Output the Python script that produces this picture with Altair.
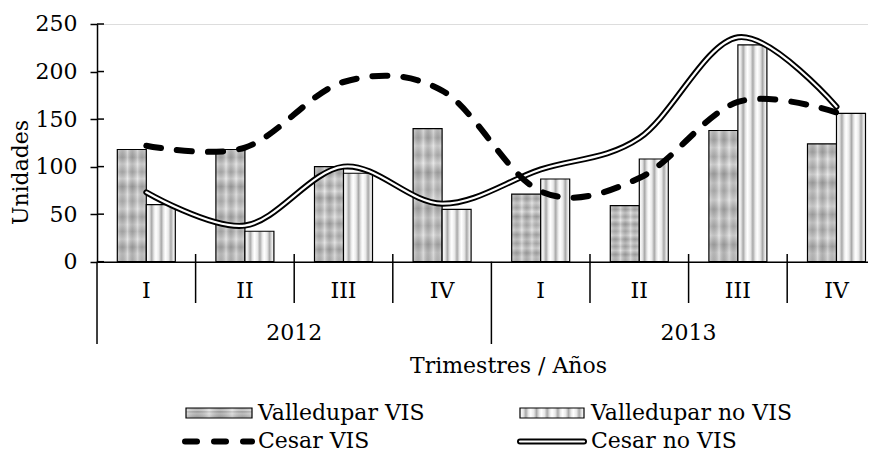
import altair as alt
import pandas as pd

# ---------------- data ----------------
years = ["2012", "2012", "2012", "2012", "2013", "2013", "2013", "2013"]
quarters = ["I", "II", "III", "IV", "I", "II", "III", "IV"]
valledupar_vis = [118, 118, 100, 140, 71, 59, 138, 124]
valledupar_no_vis = [60, 32, 93, 55, 87, 108, 228, 156]
cesar_vis = [122, 120, 189, 180, 74, 88, 168, 157]
cesar_no_vis = [73, 38, 100, 61, 97, 130, 236, 163]
y_ticks = [0, 50, 100, 150, 200, 250]
series_names = ["Valledupar VIS", "Valledupar no VIS", "Cesar VIS", "Cesar no VIS"]
year_labels = ["2012", "2013"]

cats = [f"{y}-{q}" for y, q in zip(years, quarters)]

# ---------------- layout / style ----------------
FONT = "DejaVu Serif"
FS = 22
STEP = 98.6      # category band width
W = STEP * 8     # full plot width (right part is cut by the page edge)
H = 237.7        # plot height (0 at y=261.7, 250 at y=24)
TOTAL_W = 860    # visible page width
BLACK = "#000000"

bars_df = pd.DataFrame({
    "cat": cats * 2,
    "series": [series_names[0]] * 8 + [series_names[1]] * 8,
    "value": valledupar_vis + valledupar_no_vis,
})
lines_df = pd.DataFrame({
    "cat": cats * 2,
    "series": [series_names[2]] * 8 + [series_names[3]] * 8,
    "value": cesar_vis + cesar_no_vis,
})
qlab_df = pd.DataFrame({"cat": cats, "q": quarters})
qsep_df = pd.DataFrame({"cat": [cats[i] for i in range(8) if i % 4 != 0]})
ysep_df = pd.DataFrame({"cat": [cats[0], cats[4]]})
ylab_df = pd.DataFrame({"cat": [cats[2], cats[6]], "year": year_labels})
ytick_df = pd.DataFrame({"value": y_ticks})

x_scale = alt.Scale(domain=cats, paddingInner=0, paddingOuter=0)
x_axis = alt.Axis(labels=False, ticks=False, grid=False, domain=True,
                  domainColor=BLACK, domainWidth=1.5,
                  title="Trimestres / Años", titleFont=FONT, titleFontSize=FS,
                  titleFontWeight="normal", titleColor=BLACK,
                  titleX=411, titleY=104, titleAlign="center", titleBaseline="middle")
y_scale = alt.Scale(domain=[0, 250], nice=False, zero=True)
y_axis = alt.Axis(values=y_ticks, tickSize=7, tickWidth=1.5, tickColor=BLACK,
                  domainColor=BLACK, domainWidth=1.5, grid=False,
                  labelFont=FONT, labelFontSize=FS, labelColor=BLACK, labelPadding=13,
                  title="Unidades", titleFont=FONT, titleFontSize=FS,
                  titleFontWeight="normal", titleColor=BLACK,
                  titleX=-77, titleY=148, titleAngle=270,
                  titleAlign="center", titleBaseline="middle")


def X(band=None):
    if band is None:
        return alt.X("cat:N", sort=cats, scale=x_scale, axis=x_axis)
    return alt.X("cat:N", sort=cats, scale=x_scale, axis=x_axis, bandPosition=band)


def Y():
    return alt.Y("value:Q", scale=y_scale, axis=y_axis)


xoff = alt.XOffset("series:N", sort=series_names[:2],
                   scale=alt.Scale(domain=series_names[:2], paddingInner=0, paddingOuter=0.7))


# gradients (textures)
def stripes(n):
    stops = []
    for i in range(n):
        a = i / n
        w = 1 / n
        stops += [
            alt.GradientStop(offset=a, color="#ffffff"),
            alt.GradientStop(offset=a + 0.3 * w, color="#e8e8e8"),
            alt.GradientStop(offset=a + 0.55 * w, color="#a8a8a8"),
            alt.GradientStop(offset=a + 0.8 * w, color="#e8e8e8"),
        ]
    stops.append(alt.GradientStop(offset=1, color="#ffffff"))
    return alt.Gradient(gradient="linear", stops=stops, x1=0, x2=1, y1=0, y2=0)


granite_offsets = [0, 0.07, 0.13, 0.2, 0.26, 0.33, 0.4, 0.46, 0.53, 0.6, 0.67, 0.73, 0.8, 0.87, 0.93, 1]
granite_colors = ["#cccccc", "#acacac", "#dadada", "#b4b4b4", "#e0e0e0", "#a6a6a6", "#d0d0d0", "#b8b8b8",
                  "#dcdcdc", "#aaaaaa", "#d2d2d2", "#b2b2b2", "#dadada", "#a8a8a8", "#cacaca", "#bebebe"]
granite_v = alt.Gradient(gradient="linear",
                         stops=[alt.GradientStop(offset=o, color=c) for o, c in zip(granite_offsets, granite_colors)],
                         x1=0, x2=0, y1=0, y2=1)
overlay_offsets = [0, 0.17, 0.35, 0.52, 0.7, 0.86, 1]
overlay_colors = ["rgba(255,255,255,0.3)", "rgba(60,60,60,0.15)", "rgba(255,255,255,0.35)",
                  "rgba(60,60,60,0.18)", "rgba(255,255,255,0.3)", "rgba(60,60,60,0.12)",
                  "rgba(255,255,255,0.2)"]
granite_h = alt.Gradient(gradient="linear",
                         stops=[alt.GradientStop(offset=o, color=c) for o, c in zip(overlay_offsets, overlay_colors)],
                         x1=0, x2=1, y1=0, y2=0)

base_bars = alt.Chart(bars_df)
vis_sel = alt.datum.series == series_names[0]
vis_bars = base_bars.transform_filter(vis_sel).mark_bar(
    fill=granite_v, strokeWidth=0).encode(x=X(), xOffset=xoff, y=Y())
vis_over = base_bars.transform_filter(vis_sel).mark_bar(
    fill=granite_h, strokeWidth=0).encode(x=X(), xOffset=xoff, y=Y())
vis_edge = base_bars.transform_filter(vis_sel).mark_bar(
    fillOpacity=0, stroke=BLACK, strokeWidth=1.2).encode(x=X(), xOffset=xoff, y=Y())
novis_bars = base_bars.transform_filter(alt.datum.series == series_names[1]).mark_bar(
    fill=stripes(3), stroke=BLACK, strokeWidth=1.2).encode(x=X(), xOffset=xoff, y=Y())

base_lines = alt.Chart(lines_df)
novis_outer = base_lines.transform_filter(alt.datum.series == series_names[3]).mark_line(
    interpolate="cardinal", tension=0, color=BLACK, strokeWidth=6, strokeCap="round").encode(x=X(), y=Y())
novis_inner = base_lines.transform_filter(alt.datum.series == series_names[3]).mark_line(
    interpolate="cardinal", tension=0, color="#ffffff", strokeWidth=2.2, strokeCap="round").encode(x=X(), y=Y())
vis_line = base_lines.transform_filter(alt.datum.series == series_names[2]).mark_line(
    interpolate="cardinal", tension=0, color=BLACK, strokeWidth=6, strokeCap="round",
    strokeDash=[15, 16]).encode(x=X(), y=Y())

# axis decorations
ytick_inner = alt.Chart(ytick_df).mark_rule(color=BLACK, strokeWidth=1.5).encode(
    y=Y(), x=alt.value(0), x2=alt.value(7))
qsep = alt.Chart(qsep_df).mark_rule(color=BLACK, strokeWidth=1.5).encode(
    x=X(0), y=alt.value(H - 7.7), y2=alt.value(H + 41.3))
ysep = alt.Chart(ysep_df).mark_rule(color=BLACK, strokeWidth=1.5).encode(
    x=X(0), y=alt.value(H), y2=alt.value(H + 82.3))
qlab = alt.Chart(qlab_df).mark_text(font=FONT, fontSize=FS, color=BLACK, baseline="middle").encode(
    x=X(), text="q:N", y=alt.value(H + 29))
ylab = alt.Chart(ylab_df).mark_text(font=FONT, fontSize=FS, color=BLACK, baseline="middle").encode(
    x=X(0), text="year:N", y=alt.value(H + 71.5))

# legend (drawn below the plot)
leg = pd.DataFrame({"name": series_names})
R1 = 413 - 24
R2 = 441.5 - 24
OX = 97


def leg_item(i):
    return alt.Chart(leg).transform_filter(alt.datum.name == series_names[i])


leg_layers = [
    leg_item(0).mark_rect(fill=granite_v).encode(
        x=alt.value(186 - OX), x2=alt.value(252 - OX), y=alt.value(R1 - 5), y2=alt.value(R1 + 5)),
    leg_item(0).mark_rect(fill=granite_h).encode(
        x=alt.value(186 - OX), x2=alt.value(252 - OX), y=alt.value(R1 - 5), y2=alt.value(R1 + 5)),
    leg_item(0).mark_rect(fillOpacity=0, stroke=BLACK, strokeWidth=1.2).encode(
        x=alt.value(186 - OX), x2=alt.value(252 - OX), y=alt.value(R1 - 5), y2=alt.value(R1 + 5)),
    leg_item(1).mark_rect(fill=stripes(6), stroke=BLACK, strokeWidth=1.2).encode(
        x=alt.value(520 - OX), x2=alt.value(584 - OX), y=alt.value(R1 - 5), y2=alt.value(R1 + 5)),
    leg_item(2).mark_rule(color=BLACK, strokeWidth=6, strokeCap="round", strokeDash=[12, 17]).encode(
        x=alt.value(185 - OX), x2=alt.value(252 - OX), y=alt.value(R2)),
    leg_item(3).mark_rule(color=BLACK, strokeWidth=6, strokeCap="round").encode(
        x=alt.value(520 - OX), x2=alt.value(584 - OX), y=alt.value(R2)),
    leg_item(3).mark_rule(color="#ffffff", strokeWidth=2.2, strokeCap="round").encode(
        x=alt.value(520 - OX), x2=alt.value(584 - OX), y=alt.value(R2)),
]
for i, xpos in enumerate([258, 591, 258, 591]):
    leg_layers.append(
        leg_item(i).mark_text(font=FONT, fontSize=FS, color=BLACK, align="left", baseline="middle").encode(
            x=alt.value(xpos - OX), y=alt.value(R1 if i < 2 else R2), text="name:N"))

chart = alt.layer(
    vis_bars, vis_over, vis_edge, novis_bars,
    novis_outer, novis_inner, vis_line,
    ytick_inner, qsep, ysep, qlab, ylab,
    *leg_layers,
).properties(
    width=W, height=H,
    autosize=alt.AutoSizeParams(type="none"),
    padding={"left": 89, "top": 16, "right": TOTAL_W - 89 - W, "bottom": 191},
).configure_view(stroke=None).configure(background="#ffffff")

chart.save("out.html", embed_options={"renderer": "svg", "actions": False})
